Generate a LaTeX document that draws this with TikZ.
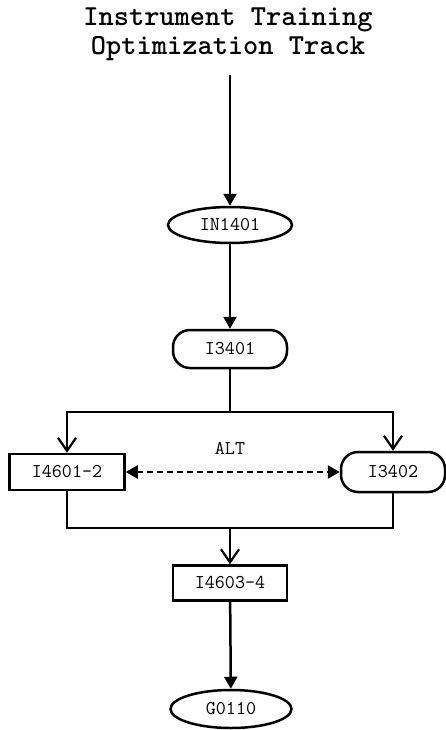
\documentclass[tikz,border=0pt]{standalone}
\usepackage{fontspec}
\usetikzlibrary{arrows.meta,shapes.geometric}
\begin{document}
\begin{tikzpicture}[x=1pt,y=-1pt,
  line width=2.5pt,
  lbl/.style={font=\ttfamily\fontsize{19.5}{20}\selectfont, inner sep=0pt},
  oval/.style={lbl, ellipse, draw=black},
  capsule/.style={lbl, rectangle, rounded corners=17pt, draw=black},
  box/.style={lbl, rectangle, draw=black},
  flow/.style={-{Triangle[length=12pt,width=13pt]}},
  branch/.style={-{Straight Barb[length=13pt,width=18pt,line width=2.2pt]}},
  alt/.style={{Triangle[length=12pt,width=13pt]}-{Triangle[length=12pt,width=13pt]}, dash pattern=on 6pt off 4pt}]
\useasboundingbox (0,0) rectangle (445,730);
% title
\node [font=\ttfamily\bfseries\fontsize{29}{29}\selectfont, align=center, inner sep=0pt] (title) at (228,34) {Instrument Training\\Optimization Track};
% nodes
\coordinate (start) at (230,75);
\node [oval, minimum width=124pt, minimum height=36pt] (in1401) at (230,225) {IN1401};
\node [capsule, minimum width=114pt, minimum height=38pt] (i3401) at (230,349) {I3401};
\coordinate (split) at (230,412);
\node [box, minimum width=115pt, minimum height=36pt] (i46012) at (67,472) {I4601-2};
\node [capsule, minimum width=104pt, minimum height=40pt] (i3402) at (393,472) {I3402};
\node [lbl] (altlabel) at (230,448) {ALT};
\coordinate (join) at (230,528);
\node [box, minimum width=114pt, minimum height=35pt] (i46034) at (230,583) {I4603-4};
\node [oval, minimum width=121pt, minimum height=38pt] (g0110) at (231,709) {G0110};
% connectors
\draw [flow] (start) -- (in1401);
\draw [flow] (in1401) -- (i3401);
\draw (i3401) -- (split);
\draw [branch] (split) -| (i46012.north);
\draw [branch] (split) -| (i3402.north);
\draw [alt] (i46012) -- (i3402);
\draw (i46012.south) |- (join) -| (i3402.south);
\draw [branch] (join) -- (i46034);
\draw [flow] (i46034) -- (g0110);
\end{tikzpicture}
\end{document}
